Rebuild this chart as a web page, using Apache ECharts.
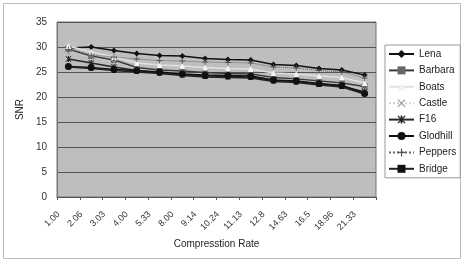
<!DOCTYPE html>
<html><head><meta charset="utf-8">
<script src="https://cdn.jsdelivr.net/npm/echarts@6/dist/echarts.min.js"></script>
<style>html,body{margin:0;padding:0;background:#fff}#c{width:464px;height:263px}</style>
</head><body><div id="c"></div>
<script>
const categories = ['1.00','2.06','3.03','4.00','5.33','8.00','9.14','10.24','11.13','12.8','14.63','16.5','18.96','21.33'];
const yTicks = [0,5,10,15,20,25,30,35];
const lena     = [29.8, 30.0, 29.3, 28.7, 28.3, 28.2, 27.7, 27.5, 27.4, 26.5, 26.3, 25.7, 25.4, 24.4];
const barbara  = [29.6, 28.2, 27.4, 25.9, 25.4, 25.2, 24.9, 24.7, 24.6, 23.9, 23.6, 23.2, 22.8, 22.1];
const boats    = [30.2, 29.0, 28.0, 26.8, 26.4, 26.2, 25.9, 25.7, 25.6, 24.8, 24.6, 24.2, 23.9, 22.8];
const castle   = [28.8, 28.0, 27.0, 25.6, 25.0, 24.8, 24.5, 24.4, 24.3, 23.6, 23.4, 23.0, 22.6, 21.5];
const f16      = [27.6, 26.8, 26.0, 25.3, 24.8, 24.5, 24.2, 24.1, 24.0, 23.3, 23.1, 22.6, 22.2, 21.0];
const glodhill = [26.1, 25.9, 25.5, 25.3, 25.0, 24.6, 24.4, 24.3, 24.2, 23.4, 23.2, 22.7, 22.3, 20.7];
const peppers  = [29.5, 28.4, 28.0, 27.6, 27.3, 27.2, 27.0, 26.9, 26.8, 26.0, 25.8, 25.3, 25.0, 23.8];
const bridge   = [26.0, 25.7, 25.3, 25.0, 24.7, 24.3, 24.0, 23.9, 23.8, 23.1, 22.9, 22.4, 22.0, 20.6];

const xShape = 'path://M0,1L1,0L5,4L9,0L10,1L6,5L10,9L9,10L5,6L1,10L0,9L4,5Z';
const plusShape = 'path://M4.3,0H5.7V4.3H10V5.7H5.7V10H4.3V5.7H0V4.3H4.3Z';
const starShape = 'path://M0,1L1,0L5,4L9,0L10,1L6,5L10,9L9,10L5,6L1,10L0,9L4,5Z M4,0H6V10H4Z';

function mk(name, data, color, symbol, size, symColor, dashed, width) {
  return {
    name, type: 'line', data,
    symbol, symbolSize: size,
    showSymbol: true,
    lineStyle: { color, width: width || 1.5, type: dashed ? 'dotted' : 'solid' },
    itemStyle: { color: symColor || color, borderColor: symColor || color, borderWidth: 0 },
    emphasis: { disabled: true },
    animation: false
  };
}

const chart = echarts.init(document.getElementById('c'));
chart.setOption({
  animation: false,
  backgroundColor: '#fff',
  textStyle: { fontFamily: 'Liberation Sans, Arial, sans-serif' },
  graphic: [{
    type: 'rect', shape: { x: 3.5, y: 3.5, width: 457, height: 255 },
    style: { fill: 'none', stroke: '#bbb', lineWidth: 1 }, silent: true, z: -1
  }],
  grid: {
    left: 57, right: 88, top: 22, bottom: 66,
    show: true, backgroundColor: '#bebebe', borderColor: '#777', borderWidth: 1
  },
  legend: {
    orient: 'vertical', left: 385, top: 45,
    padding: [4, 4, 4, 3],
    borderColor: '#999', borderWidth: 1,
    itemWidth: 25, itemHeight: 10, itemGap: 6.4,
    textStyle: { fontSize: 10, color: '#222', fontFamily: 'Liberation Sans, Arial, sans-serif' },
    data: ['Lena','Barbara','Boats','Castle','F16','Glodhill','Peppers','Bridge']
  },
  xAxis: {
    type: 'category', data: categories, boundaryGap: true,
    name: 'Compresstion Rate', nameLocation: 'middle', nameGap: 42,
    nameTextStyle: { fontSize: 10, color: '#222' },
    axisLine: { lineStyle: { color: '#555' } },
    axisTick: { show: true, length: 3, lineStyle: { color: '#555' } },
    axisLabel: { rotate: 45, fontSize: 9, color: '#333', margin: 6, padding: [0, 14, 0, 0] }
  },
  yAxis: {
    type: 'value', min: yTicks[0], max: yTicks[yTicks.length - 1], interval: 5,
    name: 'SNR', nameLocation: 'middle', nameGap: 32, nameRotate: 90,
    nameTextStyle: { fontSize: 10, color: '#222' },
    axisLine: { show: true, lineStyle: { color: '#777' } },
    axisTick: { show: false },
    axisLabel: { fontSize: 10, color: '#333', margin: 10 },
    splitLine: { show: true, lineStyle: { color: '#555', width: 1 } }
  },
  series: [
    mk('Lena', lena, '#111', 'diamond', 6, '#111'),
    mk('Barbara', barbara, '#3a3a3a', 'rect', 6, '#666'),
    mk('Boats', boats, '#e0e0e0', 'triangle', 6, '#f4f4f4'),
    mk('Castle', castle, '#d0d0d0', xShape, 5, '#999', true, 1),
    mk('F16', f16, '#262626', starShape, 6, '#222'),
    mk('Glodhill', glodhill, '#111', 'circle', 7, '#111'),
    mk('Peppers', peppers, '#666', plusShape, 6, '#555', true, 1),
    mk('Bridge', bridge, '#222', 'rect', 4, '#111')
  ]
});
</script></body></html>
